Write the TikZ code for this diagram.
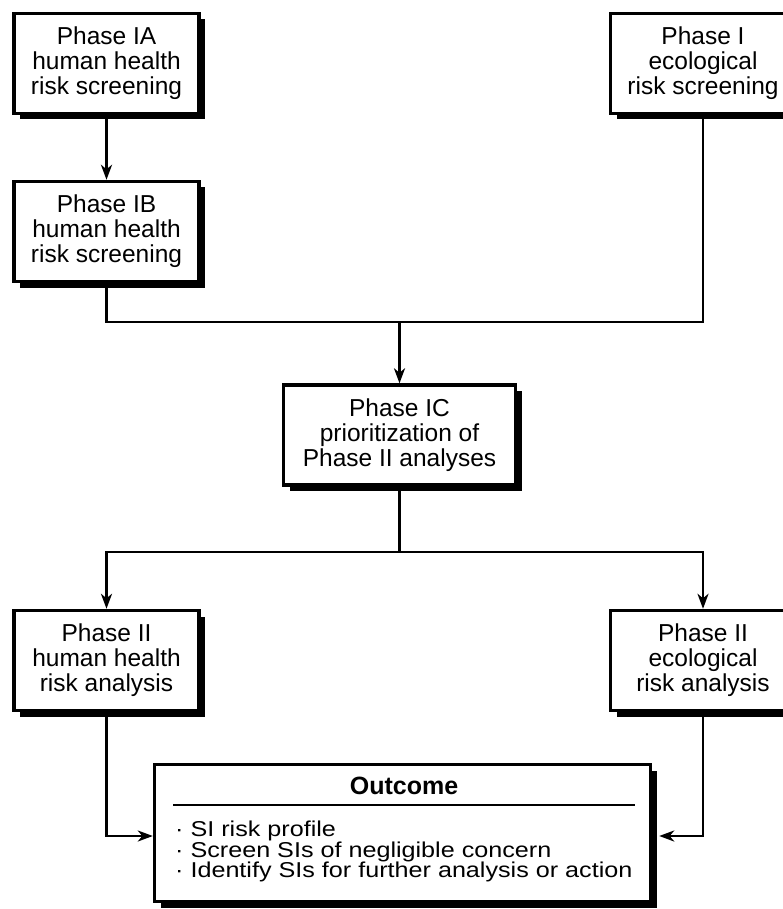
\documentclass[tikz,border=0pt]{standalone}
\usepackage{fontspec}
\setmainfont{Liberation Sans}
\newfontfamily\outfont[FakeStretch=1.17]{Liberation Sans}
\usetikzlibrary{arrows.meta,calc,shadows}

\begin{document}
\begin{tikzpicture}[x=1pt,y=-1pt,
  phasebox/.style={draw,line width=3.4pt,fill=white,
    drop shadow={shadow xshift=6pt,shadow yshift=-6pt,opacity=1,fill=black},
    minimum width=185pt,minimum height=100pt,inner sep=0pt,align=center,
    font=\fontsize{24.5}{25}\selectfont},
  conn/.style={line width=2.7pt},
  arr/.style={conn,-{Stealth[length=15pt,width=11pt,inset=4.5pt]}},
  outtext/.style={inner sep=0pt,anchor=base west,text height=14pt,text depth=4pt,
    font=\outfont\fontsize{21.5}{22}\selectfont},
]
\useasboundingbox (0,0) rectangle (783,909);

% phase boxes
\node[phasebox] (IA) at (106.5,63.5) {Phase IA\\human health\\risk screening};
\node[phasebox] (IB) at (106.5,231.5) {Phase IB\\human health\\risk screening};
\node[phasebox] (PI) at (703,63.5) {Phase I\\ecological\\risk screening};
\node[phasebox,minimum width=232pt] (IC) at (399.5,435) {Phase IC\\prioritization of\\Phase II analyses};
\node[phasebox] (IIH) at (106.5,660.5) {Phase II\\human health\\risk analysis};
\node[phasebox] (IIE) at (703,660.5) {Phase II\\ecological\\risk analysis};

% outcome box with title, rule and bullet list
\node[phasebox,minimum width=496pt,minimum height=137pt] (OUT) at (402.5,833) {};
\node[inner sep=0pt,anchor=base,font=\fontsize{25}{25}\selectfont\bfseries] (OT) at (404,794) {Outcome};
\coordinate (rl) at (173,805);
\coordinate (rr) at (635,805);
\draw[conn] (rl) -- (rr);
\node[outtext] (L1) at (175,836.5) {· SI risk profile};
\node[outtext] (L2) at (175,857) {· Screen SIs of negligible concern};
\node[outtext] (L3) at (175,877.5) {· Identify SIs for further analysis or action};

% connectors
\coordinate (j1) at (399.5,322);
\coordinate (j2) at (399.5,552);
\coordinate (yo) at (0,836);
\draw[arr] (IA.south) -- (IB.north);
\draw[conn] (IB.south) |- (j1);
\draw[conn] (PI.south) |- (j1);
\draw[arr] (j1) -- (IC.north);
\draw[conn] (IC.south) -- (j2);
\draw[arr] (j2) -| (IIH.north);
\draw[arr] (j2) -| (IIE.north);
\draw[arr] (IIH.south) |- (OUT.west |- yo);
\draw[arr] (IIE.south) |- ($(OUT.east |- yo)+(7,0)$);
\end{tikzpicture}
\end{document}
